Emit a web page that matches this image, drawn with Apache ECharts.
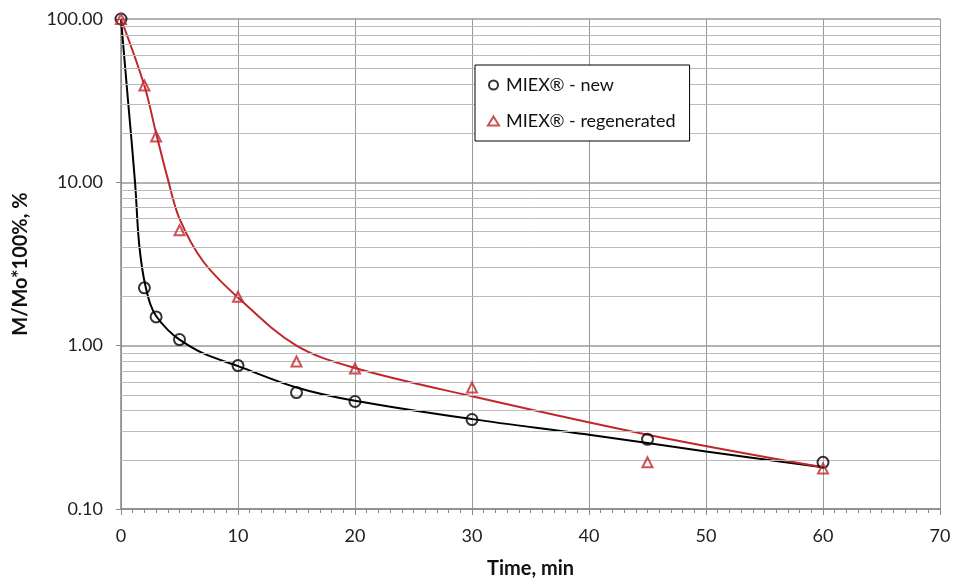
<!DOCTYPE html>
<html>
<head>
<meta charset="utf-8">
<script src="https://cdn.jsdelivr.net/npm/echarts@6/dist/echarts.min.js"></script>
<style>
  html, body { margin: 0; padding: 0; background: #fff; }
  #chart { width: 954px; height: 584px; }
</style>
</head>
<body>
<div id="chart"></div>
<script>
// measured points
const timeNew = [0, 2, 3, 5, 10, 15, 20, 30, 45, 60];
const valNew = [100, 2.26, 1.50, 1.09, 0.755, 0.516, 0.455, 0.353, 0.267, 0.193];
const timeRegen = [0, 2, 3, 5, 10, 15, 20, 30, 45, 60];
const valRegen = [100, 39.2, 19.1, 5.09, 1.99, 0.80, 0.724, 0.554, 0.193, 0.177];

// fitted curves
const fitNewT = [0, 0.6, 1.2, 1.5, 1.8, 2.1, 2.5, 3, 4, 5, 7, 10, 15, 20, 30, 40, 50, 60];
const fitNewV = [100, 31.6, 10, 4.6, 3.0, 2.3, 1.8, 1.52, 1.25, 1.09, 0.9, 0.75, 0.555, 0.46, 0.355, 0.285, 0.225, 0.18];
const fitRegenT = [0, 2, 3, 4, 5, 7, 10, 15, 20, 30, 45, 60];
const fitRegenV = [100, 39, 20, 10.5, 6.0, 3.3, 1.97, 1.0, 0.73, 0.49, 0.285, 0.18];

const minorY = [0.2, 0.3, 0.4, 0.5, 0.6, 0.7, 0.8, 0.9,
                2, 3, 4, 5, 6, 7, 8, 9,
                20, 30, 40, 50, 60, 70, 80, 90];

const zip = (a, b) => a.map((v, i) => [v, b[i]]);
const red = '#c0272d';
const font = 'Lato, "Open Sans", sans-serif';

const chart = echarts.init(document.getElementById('chart'));
chart.setOption({
    backgroundColor: '#fff',
    animation: false,
    textStyle: { fontFamily: font },
    grid: { left: 121, right: 14, top: 19, bottom: 74 },
    legend: {
        orient: 'vertical',
        left: 475,
        top: 65,
        padding: [11, 14, 11, 12],
        itemGap: 18,
        itemWidth: 11,
        itemHeight: 9,
        backgroundColor: '#fff',
        borderColor: '#000',
        borderWidth: 1,
        borderRadius: 0,
        z: 10,
        data: [
            { name: 'MIEX® - new', icon: 'circle', itemStyle: { color: '#fff', borderColor: '#000', borderWidth: 2 } },
            { name: 'MIEX® - regenerated', icon: 'triangle', itemStyle: { color: '#fff', borderColor: red, borderWidth: 2 } }
        ],
        textStyle: { fontSize: 18, color: '#111', fontFamily: font, width: 190, padding: [0, 0, 0, 2] }
    },
    xAxis: {
        type: 'value',
        min: 0,
        max: 70,
        interval: 10,
        name: 'Time, min',
        nameLocation: 'middle',
        nameGap: 50,
        nameTextStyle: { fontSize: 20, fontWeight: 'bold', color: '#111' },
        axisLine: { lineStyle: { color: '#888', width: 1.5 } },
        axisTick: { length: 6, lineStyle: { color: '#888' } },
        minorTick: { show: true, splitNumber: 10, length: 4, lineStyle: { color: '#888' } },
        axisLabel: { fontSize: 18, color: '#222', margin: 18 },
        splitLine: { lineStyle: { color: '#999', width: 1 } }
    },
    yAxis: {
        type: 'log',
        logBase: 10,
        min: 0.1,
        max: 100,
        name: 'M/Mo*100%, %',
        nameLocation: 'middle',
        nameGap: 90,
        nameTextStyle: { fontSize: 20, fontWeight: 'bold', color: '#111' },
        axisLine: { show: true, lineStyle: { color: '#888', width: 1.5 } },
        axisTick: { show: true, length: 5, lineStyle: { color: '#888' } },
        axisLabel: { fontSize: 18, color: '#222', margin: 18, formatter: v => v.toFixed(2) },
        splitLine: { lineStyle: { color: '#999', width: 1.5 } }
    },
    series: [
        {
            name: 'minor',
            type: 'line',
            data: [],
            silent: true,
            markLine: {
                silent: true,
                symbol: 'none',
                label: { show: false },
                lineStyle: { color: '#bbb', width: 1, type: 'solid' },
                data: minorY.map(v => ({ yAxis: v }))
            }
        },
        {
            name: 'fit new',
            type: 'line',
            data: zip(fitNewT, fitNewV),
            smooth: 0.35,
            showSymbol: false,
            silent: true,
            lineStyle: { color: '#000', width: 2 },
            z: 3
        },
        {
            name: 'fit regen',
            type: 'line',
            data: zip(fitRegenT, fitRegenV),
            smooth: 0.35,
            showSymbol: false,
            silent: true,
            lineStyle: { color: red, width: 2 },
            z: 3
        },
        {
            name: 'MIEX® - new',
            type: 'scatter',
            data: zip(timeNew, valNew),
            symbol: 'circle',
            symbolSize: 11,
            itemStyle: { color: 'rgba(255,255,255,0)', borderColor: '#000', borderWidth: 2 },
            z: 5
        },
        {
            name: 'MIEX® - regenerated',
            type: 'scatter',
            data: zip(timeRegen, valRegen),
            symbol: 'triangle',
            symbolSize: 10,
            itemStyle: { color: 'rgba(255,255,255,0)', borderColor: red, borderWidth: 2 },
            z: 5
        }
    ]
});
</script>
</body>
</html>
